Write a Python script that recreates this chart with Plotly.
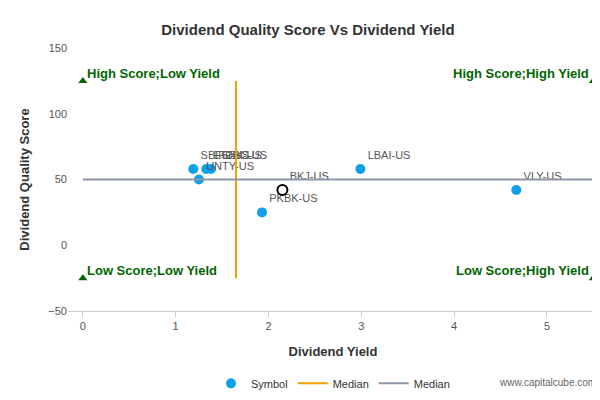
import plotly.graph_objects as go

symbols = ["SBFG-US", "ESBK-US", "FDBC-US", "UNTY-US", "PKBK-US", "LBAI-US", "VLY-US"]
yields = [1.19, 1.33, 1.38, 1.25, 1.93, 2.99, 4.67]
scores = [58, 58, 58, 50, 25, 58, 42]
focus_symbol = "BKJ-US"
focus_yield = 2.15
focus_score = 42
median_yield = 1.65
median_score = 50
x_max = 5.5
score_lo, score_hi = -25, 125

green = "#006600"
fig = go.Figure()
fig.add_trace(go.Scatter(x=yields, y=scores, mode="markers+text", text=symbols,
                         textposition="top right", textfont=dict(size=11, color="#555"),
                         marker=dict(size=10, color="#0ea0e8"), name="Symbol"))
fig.add_trace(go.Scatter(x=[focus_yield], y=[focus_score], mode="markers+text", text=[focus_symbol],
                         textposition="top right", textfont=dict(size=11, color="#555"),
                         marker=dict(size=10, color="white", line=dict(color="black", width=2)),
                         showlegend=False))
fig.add_trace(go.Scatter(x=[median_yield, median_yield], y=[score_lo, score_hi], mode="lines",
                         line=dict(color="#f5a000", width=2), name="Median"))
fig.add_trace(go.Scatter(x=[0, x_max], y=[median_score, median_score], mode="lines",
                         line=dict(color="#8e96a8", width=2), name="Median"))
fig.add_trace(go.Scatter(x=[0, x_max, 0, x_max], y=[score_hi, score_hi, score_lo, score_lo],
                         mode="markers", marker=dict(symbol="triangle-up", size=8, color=green),
                         showlegend=False, cliponaxis=False))
for x, y, t, anc in [(0, score_hi, "High Score;Low Yield", "left"), (x_max, score_hi, "High Score;High Yield", "right"),
                     (0, score_lo, "Low Score;Low Yield", "left"), (x_max, score_lo, "Low Score;High Yield", "right")]:
    fig.add_annotation(x=x, y=y, text="<b>" + t + "</b>", showarrow=False, xanchor=anc, yanchor="bottom",
                       xshift=2 if anc == "left" else -2, yshift=-2, font=dict(size=13, color=green))

fig.update_layout(
    width=600, height=400, plot_bgcolor="white", paper_bgcolor="white",
    font=dict(family="Liberation Sans, Arial", color="#333"),
    title=dict(text="<b>Dividend Quality Score Vs Dividend Yield</b>", x=0.5, y=0.96, font=dict(size=15)),
    margin=dict(l=60, r=10, t=40, b=90),
    xaxis=dict(title=dict(text="<b>Dividend Yield</b>", font=dict(size=13)), range=[-0.16, 5.55],
               tickvals=[0, 1, 2, 3, 4, 5], showgrid=False, zeroline=False, showline=True,
               linecolor="#ccc", ticks="outside", tickcolor="#ccc", tickfont=dict(size=11, color="#555")),
    yaxis=dict(title=dict(text="<b>Dividend Quality Score</b>", font=dict(size=13)), range=[-50, 150],
               dtick=50, showgrid=False, zeroline=False, tickfont=dict(size=11, color="#555")),
    legend=dict(orientation="h", x=0.5, xanchor="center", y=-0.22, font=dict(size=11)),
)
fig.add_annotation(text="www.capitalcube.com", xref="paper", yref="paper", x=1.0, y=-0.3,
                   xanchor="right", showarrow=False, font=dict(size=10, color="#666"))
fig.write_html("out.html")
